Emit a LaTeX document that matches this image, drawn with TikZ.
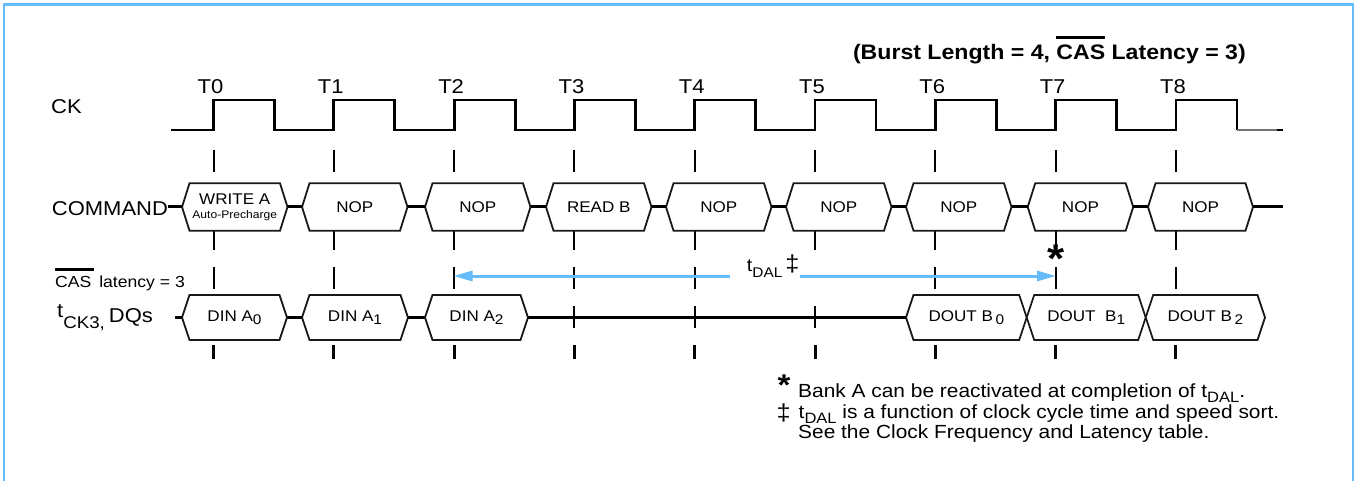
\documentclass[tikz,border=0pt]{standalone}
\usepackage{fontspec}
\setmainfont{Liberation Sans}[FakeStretch=1.1]
\usetikzlibrary{arrows.meta}
\definecolor{frameblue}{RGB}{102,187,250}
\definecolor{boxline}{RGB}{25,25,25}
\newcommand\fs[1]{\fontsize{#1}{#1}\selectfont}
\newcommand\barover[3]{\setbox0\hbox{#3}\rlap{\rule[#1]{\dimexpr\wd0+#2\relax}{2.2pt}}\box0\relax}
\newcommand\lowtext[3]{\raisebox{-#1}{\fs{#2}#3}}
\newcommand\hexbox[6]{%
  \draw[hex] (#2,#4) -- (#2+7.5,#4-#5) -- (#2+#3-7.5,#4-#5) -- (#2+#3,#4) -- (#2+#3-7.5,#4+#5) -- (#2+7.5,#4+#5) -- cycle;
  \coordinate (w-#1) at (#2,#4);
  \coordinate (e-#1) at (#2+#3,#4);
  \node[boxtext] (#1) at (#2+#3/2,#4) {#6};}
\begin{document}
\begin{tikzpicture}[x=1pt,y=-1pt,
  frame/.style={draw=frameblue,line width=2.6pt},
  clk/.style={line width=2.8pt,line join=miter},
  guide/.style={line width=2pt,dash pattern=on 22pt off 17pt},
  guidelow/.style={line width=3pt},
  hex/.style={draw=boxline,line width=1.8pt,fill=white,line join=miter},
  wire/.style={line width=3pt},
  boxtext/.style={font=\fs{15.5},inner sep=0pt,align=center},
  lbl/.style={font=\fs{20},inner sep=0pt},
  note/.style={font=\fs{19},inner sep=0pt,anchor=base west},
  dal/.style={draw=frameblue,line width=3pt,-{Triangle[length=19pt,width=10pt]}}]
\useasboundingbox (0,0) rectangle (1357,481);
\draw[frame] (4,483) -- (4,4.5) -- (1353,4.5) -- (1353,483);

% title
\node[inner sep=0pt,font=\fs{21}\bfseries,anchor=base east] (title) at (1246,59.5)
  {(Burst Length = 4, \barover{20.8pt}{0pt}{CAS} Latency = 3)};

% clock
\draw[clk] (171,130) \foreach \i in {0,...,8}{ -- ({213.5+120.3*\i},130) -- ({213.5+120.3*\i},100) -- ({274.5+120.3*\i},100) -- ({274.5+120.3*\i},130)};
\draw[line width=1.6pt,black!55] (1236.9,130) -- (1277,130);
\draw[line width=2.8pt] (1277,130) -- (1283,130);
\foreach \i in {0,...,8} \node[lbl,anchor=base] (T\i) at ({210.5+120.3*\i},93.3) {T\i};
\node[lbl,anchor=base west] (ck) at (51,113.3) {CK};

% guides
\foreach \i in {0,...,8}{
  \draw[guide] ({213.5+120.3*\i},150) -- ({213.5+120.3*\i},328);
  \draw[guidelow] ({213.5+120.3*\i},345) -- ({213.5+120.3*\i},359);}

% command row
\node[lbl,anchor=base west] (cmd) at (51.7,215) {COMMAND};
\hexbox{c0}{182}{105.5}{207}{23.7}{WRITE A\\[-1.5pt]{\fs{11}Auto-Precharge}}
\hexbox{c1}{302}{105.5}{207}{23.7}{NOP}
\hexbox{c2}{425}{105.5}{207}{23.7}{NOP}
\hexbox{c3}{546}{105.5}{207}{23.7}{READ B}
\hexbox{c4}{666}{105.5}{207}{23.7}{NOP}
\hexbox{c5}{786}{105.5}{207}{23.7}{NOP}
\hexbox{c6}{906}{105.5}{207}{23.7}{NOP}
\hexbox{c7}{1027.7}{105.5}{207}{23.7}{NOP}
\hexbox{c8}{1148}{105}{207}{23.7}{NOP}
\coordinate (cstub) at (168,207);
\coordinate (cend) at (1283,207);
\draw[wire] (cstub) -- (w-c0);
\foreach \a/\b in {0/1,1/2,2/3,3/4,4/5,5/6,6/7,7/8} \draw[wire] (e-c\a) -- (w-c\b);
\draw[wire] (e-c8) -- (cend);

% DQ row
\node[font=\fs{16},inner sep=0pt,anchor=base west] (cas) at (55,287.7)
  {\barover{17.2pt}{3pt}{CAS}\hspace{3pt} latency = 3};
\node[lbl,anchor=base west] (dq) at (57,317)
  {t\lowtext{11pt}{17}{CK3,}\hspace{4pt}\lowtext{5pt}{20}{DQs}};
\hexbox{d0}{182}{105}{317.5}{22.5}{DIN A\lowtext{3.5pt}{14}{0}}
\hexbox{d1}{302}{106}{317.5}{22.5}{DIN A\lowtext{3.5pt}{14}{1}}
\hexbox{d2}{425}{103}{317.5}{22.5}{DIN A\lowtext{3.5pt}{14}{2}}
\hexbox{o0}{906}{120.7}{317.5}{22.5}{DOUT B\,\lowtext{3.5pt}{14}{0}}
\hexbox{o1}{1026.7}{119}{317.5}{22.5}{DOUT\ \ B\lowtext{3.5pt}{14}{1}}
\hexbox{o2}{1145.7}{119.3}{317.5}{22.5}{DOUT B\,\lowtext{3.5pt}{14}{2}}
\coordinate (dstub) at (175,317.5);
\draw[wire] (dstub) -- (w-d0);
\draw[wire] (e-d0) -- (w-d1);
\draw[wire] (e-d1) -- (w-d2);
\draw[wire] (e-d2) -- (w-o0);

% tDAL
\fill[white] (806,258) rectangle (824,292);
\node[inner sep=0pt,font=\fs{18},anchor=base west] (dal) at (730,271.7)
  {\hspace{16.7pt}t\lowtext{5.5pt}{14}{DAL}\hspace{3pt}{\fs{23}‡}\hspace{10pt}};
\coordinate (aL) at (453.5,276);
\coordinate (aR) at (1056,276);
\draw[dal] (dal.west |- aL) -- (aL);
\draw[dal] (dal.east |- aR) -- (aR);
\node[font=\fs{40}\bfseries,inner sep=0pt,anchor=base] (star) at (1055.7,272) {*};

% notes
\node[font=\fs{30}\bfseries,inner sep=0pt,anchor=base west] (fstar) at (777.5,395) {*};
\node[note] (f1) at (798,397) {Bank A can be reactivated at completion of t\lowtext{5pt}{15}{DAL}.};
\node[font=\fs{23},inner sep=0pt,anchor=base west] (fdag) at (776.5,420) {‡};
\node[note] (f2) at (798.5,418) {t\lowtext{5pt}{15}{DAL} is a function of clock cycle time and speed sort.};
\node[note] (f3) at (798,438.7) {See the Clock Frequency and Latency table.};
\end{tikzpicture}
\end{document}
